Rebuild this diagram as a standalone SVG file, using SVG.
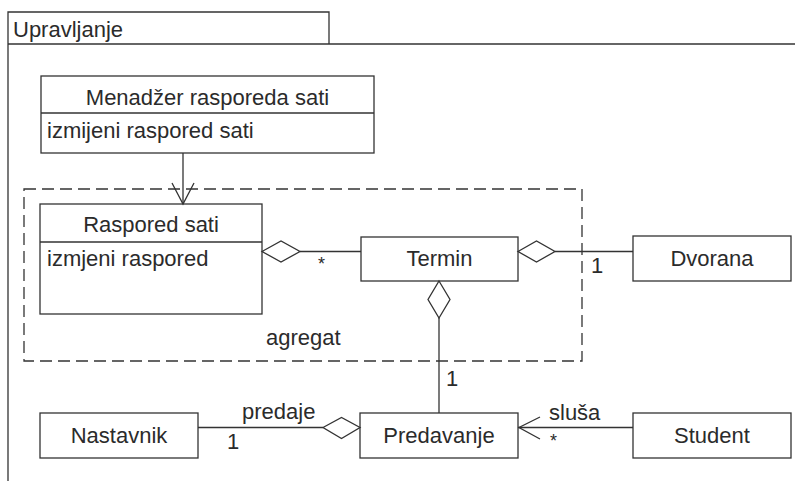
<svg xmlns="http://www.w3.org/2000/svg" width="795" height="481" viewBox="0 0 795 481">
<style>
.b{fill:#fff;stroke:#333;stroke-width:1.3}
.l{fill:none;stroke:#333;stroke-width:1.3}
.d{fill:#fff;stroke:#333;stroke-width:1.3}
text{font-family:"Liberation Sans",Arial,sans-serif;font-size:22px;fill:#2b2b2b}
.c{text-anchor:middle}
.s{font-size:18px}
</style>
<rect width="795" height="481" fill="#fff"/>
<g id="frame">
<path class="l" d="M8,481 V12 H329 V44"/>
<path class="l" d="M8,44 H795"/>
<text x="13" y="37">Upravljanje</text>
</g>
<g id="agregat">
<rect x="24" y="189" width="558" height="172" fill="none" stroke="#333" stroke-width="1.3" stroke-dasharray="12 6"/>
<text x="266" y="345">agregat</text>
</g>
<g id="menadzer">
<rect class="b" x="41" y="76" width="333" height="77"/>
<path class="l" d="M41,113 H374"/>
<text class="c" x="207.5" y="105">Menadžer rasporeda sati</text>
<text x="47" y="138">izmijeni raspored sati</text>
</g>
<g id="raspored">
<rect class="b" x="40" y="204" width="222" height="110"/>
<path class="l" d="M40,242 H262"/>
<text class="c" x="151" y="232">Raspored sati</text>
<text x="47" y="266">izmjeni raspored</text>
</g>
<g id="termin">
<rect class="b" x="361" y="237" width="157" height="44"/>
<text class="c" x="439.5" y="266">Termin</text>
</g>
<g id="dvorana">
<rect class="b" x="633" y="236" width="158" height="45"/>
<text class="c" x="712" y="266">Dvorana</text>
</g>
<g id="nastavnik">
<rect class="b" x="40" y="413" width="158" height="45"/>
<text class="c" x="119" y="443">Nastavnik</text>
</g>
<g id="predavanje">
<rect class="b" x="360" y="413" width="158" height="45"/>
<text class="c" x="439" y="443">Predavanje</text>
</g>
<g id="student">
<rect class="b" x="633" y="413" width="158" height="45"/>
<text class="c" x="712" y="443">Student</text>
</g>
<g id="connectors">
<path class="l" d="M183,153 V204"/>
<path class="l" d="M172,183 L183,204 L194,183"/>
<path class="l" d="M300,251.5 H361"/>
<path class="d" d="M262,251.5 L281,241 L300,251.5 L281,262 Z"/>
<text class="s" x="318" y="270">*</text>
<path class="l" d="M555,251.5 H633"/>
<path class="d" d="M518,251.5 L536.5,241 L555,251.5 L536.5,262 Z"/>
<text x="591" y="273">1</text>
<path class="l" d="M439,318 V413"/>
<path class="d" d="M439,281 L450,299.5 L439,318 L428,299.5 Z"/>
<text x="446" y="386">1</text>
<path class="l" d="M198,427.5 H323"/>
<path class="d" d="M323,427.5 L341.5,417.5 L360,427.5 L341.5,438.5 Z"/>
<text x="242" y="419">predaje</text>
<text x="227" y="449">1</text>
<path class="l" d="M518,427.5 H633"/>
<path class="l" d="M540,417 L519,427.5 L540,439"/>
<text x="549" y="420">sluša</text>
<text class="s" x="550" y="447">*</text>
</g>
</svg>
